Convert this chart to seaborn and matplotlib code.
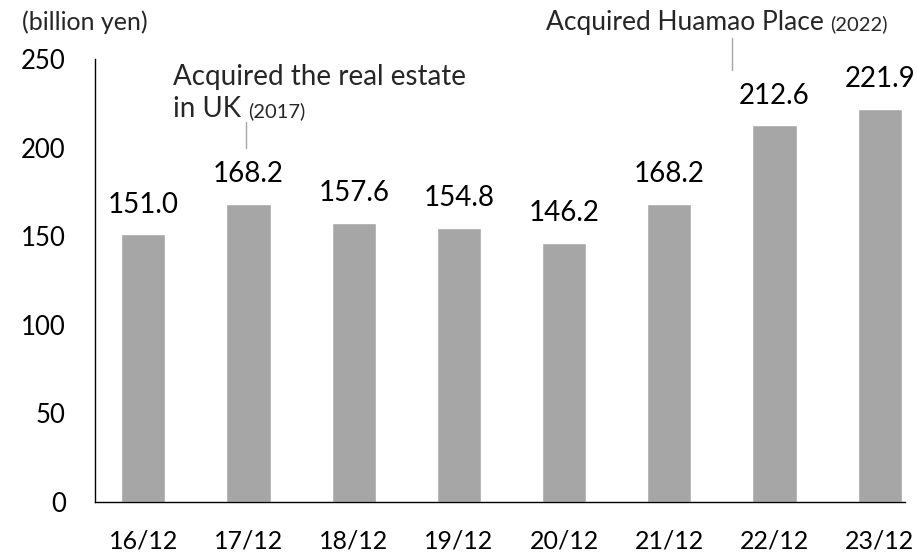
import matplotlib
matplotlib.use("Agg")
import matplotlib.pyplot as plt
import seaborn as sns
import pandas as pd

categories = ["16/12", "17/12", "18/12", "19/12", "20/12", "21/12", "22/12", "23/12"]
values = [151.0, 168.2, 157.6, 154.8, 146.2, 168.2, 212.6, 221.9]
y_ticks = [0, 50, 100, 150, 200, 250]
unit_label = "(billion yen)"
note1_main = ["Acquired the real estate", "in UK "]
note1_year = "(2017)"
note2_main = "Acquired Huamao Place "
note2_year = "(2022)"

sns.set_style("white")
plt.rcParams['font.family'] = ['Lato', 'DejaVu Sans']

W, H = 917, 552
df = pd.DataFrame({"cat": categories, "val": values})
fig = plt.figure(figsize=(W/100, H/100), dpi=100)
ax = fig.add_axes([95/W, 1-502/H, (905-95)/W, (502-59)/H])
sns.barplot(data=df, x="cat", y="val", color="#A6A6A6", saturation=1, width=0.42, ax=ax)
ax.set_xlim(-0.46, 7.24)
ax.set_ylim(0, 250)
ax.set_yticks(y_ticks)
ax.set_xlabel("")
ax.set_ylabel("")
for s in ["top", "right"]:
    ax.spines[s].set_visible(False)
for s in ["left", "bottom"]:
    ax.spines[s].set_color("black")
    ax.spines[s].set_linewidth(1.0)
ax.tick_params(axis="y", direction="out", length=6, width=1, color="black",
               labelsize=18.5, pad=15, labelcolor="black")
ax.tick_params(axis="x", length=0, labelsize=18, pad=19.5, labelcolor="black")

for i, v in enumerate(values):
    ax.annotate(f"{v:.1f}", xy=(i, v), xytext=(0, 15.5), textcoords="offset points",
                ha="center", va="baseline", fontsize=20, color="black")

fig.text(22/W, 1-22/H, unit_label, fontsize=18, va="center", ha="left")

fig.canvas.draw()
r = fig.canvas.get_renderer()

# note 1
fig.text(173/W, 1-85/H, note1_main[0], fontsize=20, va="baseline", ha="left")
t = fig.text(173/W, 1-117/H, note1_main[1], fontsize=20, va="baseline", ha="left")
bb = t.get_window_extent(r)
fig.text(bb.x1/W, 1-117/H, note1_year, fontsize=14.5, va="baseline", ha="left")
fig.add_artist(plt.Line2D([246/W, 246/W], [1-122/H, 1-148/H], color="#A6A6A6", lw=1))

# note 2
ty = fig.text(888/W, 1-30/H, note2_year, fontsize=14.5, va="baseline", ha="right")
bby = ty.get_window_extent(r)
fig.text(bby.x0/W, 1-30/H, note2_main, fontsize=19, va="baseline", ha="right")
fig.add_artist(plt.Line2D([732/W, 732/W], [1-38/H, 1-70/H], color="#A6A6A6", lw=1))

fig.savefig("out.png", dpi=100)
